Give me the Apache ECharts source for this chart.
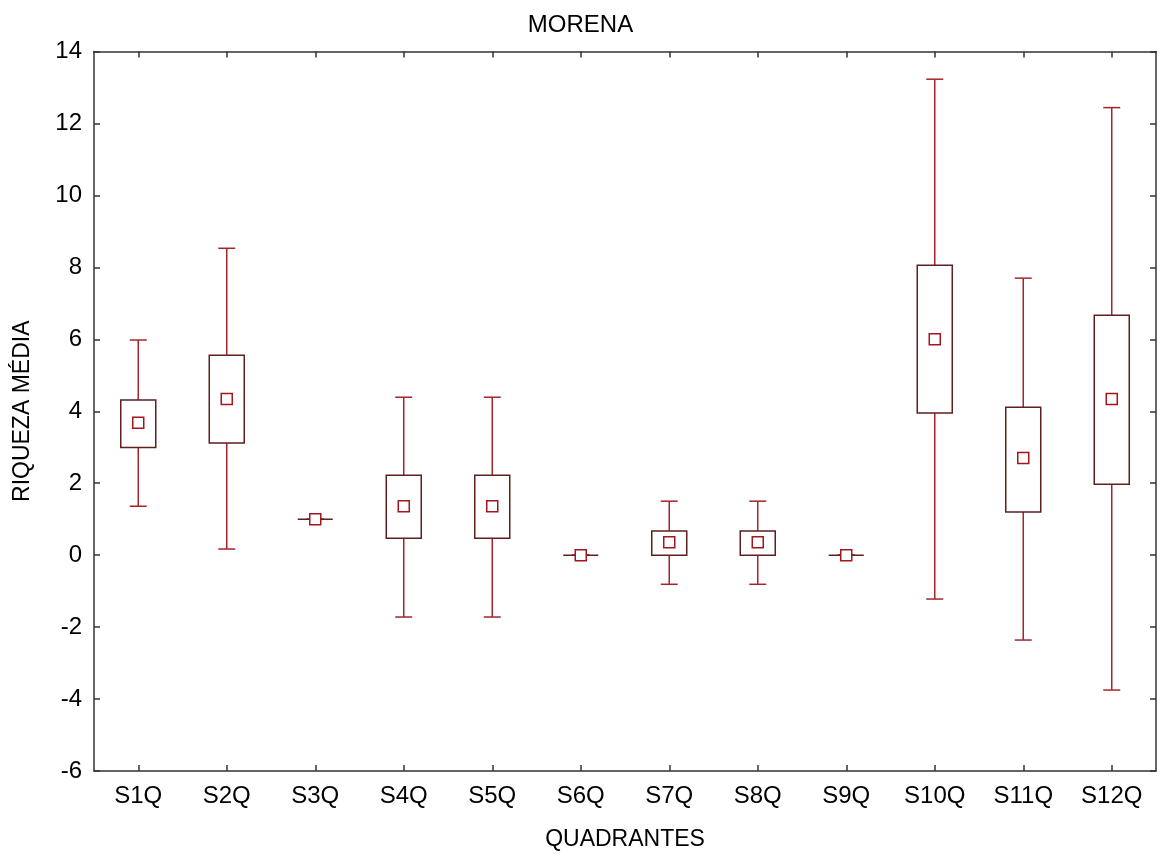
<!DOCTYPE html>
<html>
<head>
<meta charset="utf-8">
<script src="https://cdn.jsdelivr.net/npm/echarts@6/dist/echarts.min.js"></script>
<style>
html,body{margin:0;padding:0;background:#fff;}
#c{width:1161px;height:856px;}
</style>
</head>
<body>
<div id="c"></div>
<script>
const categories = ['S1Q','S2Q','S3Q','S4Q','S5Q','S6Q','S7Q','S8Q','S9Q','S10Q','S11Q','S12Q'];
const whiskerLow  = [1.36, 0.17, 1.0, -1.72, -1.72, 0, -0.81, -0.81, 0, -1.22, -2.36, -3.75];
const boxLow      = [2.99, 3.12, 1.0, 0.47, 0.47, 0, 0.0, 0.0, 0, 3.95, 1.2, 1.97];
const meanValues  = [3.68, 4.34, 1.0, 1.36, 1.36, 0, 0.36, 0.36, 0, 6.0, 2.7, 4.34];
const boxHigh     = [4.31, 5.56, 1.0, 2.22, 2.22, 0, 0.67, 0.67, 0, 8.06, 4.11, 6.67];
const whiskerHigh = [5.98, 8.53, 1.0, 4.39, 4.39, 0, 1.5, 1.5, 0, 13.23, 7.7, 12.44];
const yTicks = { min: -6, max: 14, interval: 2 };
const titleText = 'MORENA';
const xName = 'QUADRANTES';
const yName = 'RIQUEZA MÉDIA';

const data = categories.map((c, i) => [i, whiskerLow[i], boxLow[i], meanValues[i], boxHigh[i], whiskerHigh[i]]);

const FONT = '"Liberation Sans", Arial, sans-serif';
const WHISKER = '#a3262a';
const BOXC = '#5e1f1f';
const MEANC = '#a3161c';
const AX = '#333333';

function renderItem(params, api) {
  const i = api.value(0);
  const pWl = api.coord([i, api.value(1)]);
  const pBl = api.coord([i, api.value(2)]);
  const pM  = api.coord([i, api.value(3)]);
  const pBh = api.coord([i, api.value(4)]);
  const pWh = api.coord([i, api.value(5)]);
  const x = pM[0];
  const boxW = 35, capW = 17, mS = 11;
  const wStyle = { stroke: WHISKER, lineWidth: 1.5, fill: null };
  return {
    type: 'group',
    children: [
      { type: 'line', shape: { x1: x, y1: pBh[1], x2: x, y2: pWh[1] }, style: wStyle },
      { type: 'line', shape: { x1: x, y1: pBl[1], x2: x, y2: pWl[1] }, style: wStyle },
      { type: 'line', shape: { x1: x - capW/2, y1: pWh[1], x2: x + capW/2, y2: pWh[1] }, style: wStyle },
      { type: 'line', shape: { x1: x - capW/2, y1: pWl[1], x2: x + capW/2, y2: pWl[1] }, style: wStyle },
      { type: 'rect', shape: { x: x - boxW/2, y: pBh[1], width: boxW, height: pBl[1] - pBh[1] },
        style: { stroke: BOXC, lineWidth: 1.5, fill: '#fff' } },
      { type: 'rect', shape: { x: x - mS/2, y: pM[1] - mS/2, width: mS, height: mS },
        style: { stroke: MEANC, lineWidth: 1.5, fill: '#fff' } }
    ]
  };
}

const chart = echarts.init(document.getElementById('c'), null, { renderer: 'canvas' });
const axisLine = { show: true, onZero: false, lineStyle: { color: AX, width: 1.5 } };
const axisTickIn = { show: true, inside: true, length: 6, lineStyle: { color: AX, width: 1.5 } };
chart.setOption({
  backgroundColor: '#fff',
  animation: false,
  title: {
    text: titleText, left: 'center', top: 8,
    textStyle: { fontFamily: FONT, fontSize: 24, fontWeight: 'normal', color: '#000' }
  },
  grid: { left: 94, right: 5, top: 51.5, bottom: 85, containLabel: false },
  xAxis: [
    {
      type: 'category', data: categories, position: 'bottom',
      axisLine: axisLine,
      axisTick: Object.assign({ alignWithLabel: true }, axisTickIn),
      axisLabel: { fontFamily: FONT, fontSize: 24, color: '#000', margin: 13 },
      splitLine: { show: false },
      name: xName, nameLocation: 'middle', nameGap: 57,
      nameTextStyle: { fontFamily: FONT, fontSize: 23, color: '#000' }
    },
    {
      type: 'category', data: categories, position: 'top',
      axisLine: axisLine,
      axisTick: Object.assign({ alignWithLabel: true }, axisTickIn),
      axisLabel: { show: false }, splitLine: { show: false }
    }
  ],
  yAxis: [
    {
      type: 'value', min: yTicks.min, max: yTicks.max, interval: yTicks.interval, position: 'left',
      axisLine: axisLine, axisTick: axisTickIn,
      axisLabel: { fontFamily: FONT, fontSize: 24, color: '#000', margin: 12 },
      splitLine: { show: false },
      name: yName, nameLocation: 'middle', nameGap: 60, nameRotate: 90,
      nameTextStyle: { fontFamily: FONT, fontSize: 23, color: '#000' }
    },
    {
      type: 'value', min: yTicks.min, max: yTicks.max, interval: yTicks.interval, position: 'right',
      axisLine: axisLine, axisTick: axisTickIn,
      axisLabel: { show: false }, splitLine: { show: false }
    }
  ],
  series: [{
    type: 'custom',
    renderItem: renderItem,
    xAxisIndex: 0, yAxisIndex: 0,
    encode: { x: 0, y: [1, 2, 3, 4, 5] },
    data: data,
    clip: false
  }]
});
</script>
</body>
</html>
